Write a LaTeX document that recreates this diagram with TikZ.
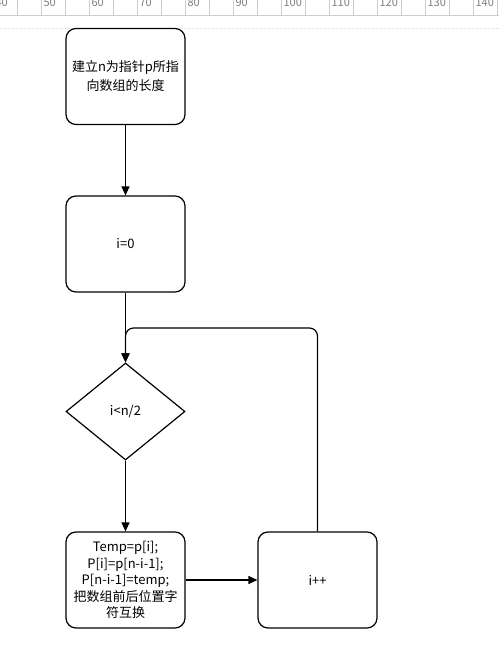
\documentclass[tikz,border=0pt]{standalone}
\usepackage{fontspec}
\setmainfont{Noto Sans CJK SC}
\usetikzlibrary{shapes.geometric}
\usetikzlibrary{arrows.meta}
\definecolor{rulegray}{RGB}{205,205,205}
\definecolor{rulelabel}{RGB}{125,125,125}
\definecolor{guidegray}{RGB}{228,228,228}
\tikzset{proc/.style = {draw, rounded corners=10pt, minimum width=119pt, minimum height=96pt,
    inner sep=0, align=center, font=\fontsize{13}{19}\selectfont}}
\tikzset{decide/.style = {draw, diamond, minimum width=119pt, minimum height=97pt,
    inner sep=0, font=\fontsize{13}{19}\selectfont}}
\tikzset{flow/.style = {-{Triangle[length=9pt,width=8pt]}}}
\tikzset{every picture/.style={
    every path/.style={line width=1.2pt},
}}

\begin{document}
\begin{tikzpicture}[x=1pt, y=-1pt]
    \useasboundingbox[fill=white] (0,0) rectangle (499,663);
    % ruler
    \draw[guidegray, line width=0.8pt, dash pattern=on 3pt off 1pt] (0,28) -- (499,28);
    \foreach \k in {-1,...,20}
      \draw[rulegray, line width=0.8pt] ({17+24*\k},0) -- ({17+24*\k},15);
    \draw[rulegray, line width=0.8pt] (0,15) -- (499,15);
    \foreach \v [count=\i from 0] in {40,50,...,140}
      \node[rulelabel, anchor=base west, inner sep=0, font=\fontsize{11}{11}\selectfont]
        (r\v) at ({-5+48*\i},6.5) {\v};

    % flow chart
    \node[proc] (len) at (125.5,76.5) {建立n为指针p所指\\向数组的长度};
    \node[proc] (init) at (125.5,244) {i=0};
    \node[decide] (cond) at (125.5,411.5) {i<n/2};
    \node[proc, font=\fontsize{13}{16.5}\selectfont] (swap) at (125.5,580)
      {Temp=p[i];\\P[i]=p[n-i-1];\\P[n-i-1]=temp;\\把数组前后位置字\\符互换};
    \node[proc] (inc) at (317.5,580) {i++};
    \coordinate (back) at (317.5,328);

    \draw[flow] (len) -- (init);
    \draw[flow] (init) -- (cond);
    \draw[flow] (cond) -- (swap);
    \draw[flow] (swap) -- (inc);
    \draw[flow, rounded corners=8pt] (inc.north) -- (back) -| (cond.north);
\end{tikzpicture}
\end{document}
